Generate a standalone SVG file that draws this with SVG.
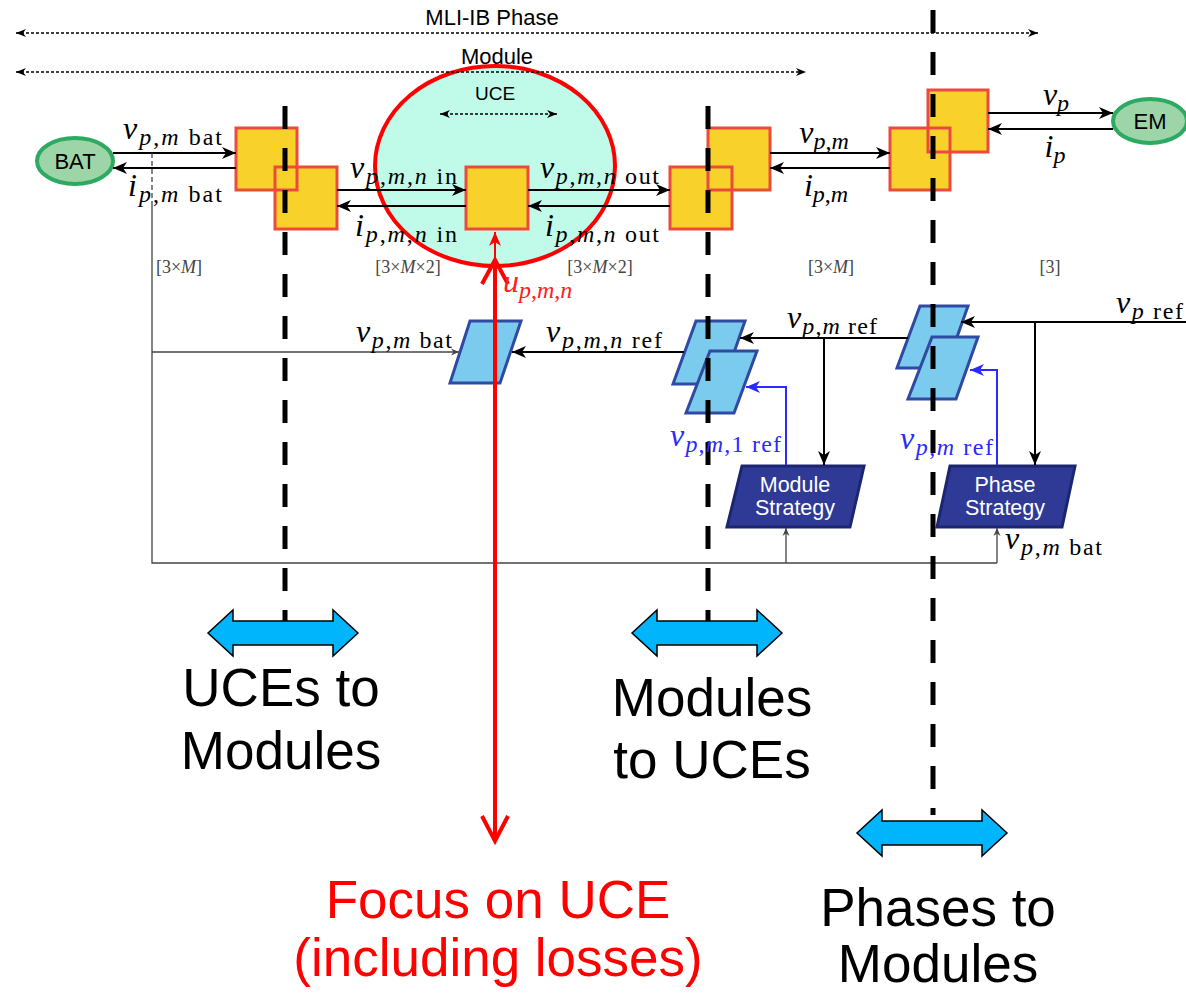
<svg xmlns="http://www.w3.org/2000/svg" width="1186" height="994" viewBox="0 0 1186 994">
<style>
.m{font-family:"Liberation Serif","DejaVu Serif",serif;font-size:32px;fill:#000}
.s{font-size:24px}
.i{font-style:italic}
.dim{font-family:"Liberation Serif","DejaVu Serif",serif;font-size:18px;fill:#444}
.sans{font-family:"Liberation Sans",Arial,sans-serif}
.big{font-family:"Liberation Sans",Arial,sans-serif;font-size:53px;fill:#000;text-anchor:middle}
.sq{fill:#f8d22a;stroke:none}
.sqo{fill:none;stroke:#ec4a3c;stroke-width:3}
.ctl{fill:#7bcbef;stroke:#2f4aa0;stroke-width:3}
.str{fill:#2e3a96;stroke:#1c2670;stroke-width:3}
.stxt{font-family:"Liberation Sans",Arial,sans-serif;font-size:21.5px;fill:#fff;text-anchor:middle}
.ln{stroke:#000;stroke-width:2;fill:none}
.th{stroke:#444;stroke-width:1.3;fill:none}
.dash{stroke:#000;stroke-width:5;stroke-dasharray:23 19;fill:none}
.dot{stroke:#000;stroke-width:1.5;stroke-dasharray:3 2;fill:none}
.bl{stroke:#2a2aff;stroke-width:2;fill:none}
.dbl{fill:#00b5fb;stroke:#000;stroke-width:1.5}
</style>
<defs>
<marker id="ah" markerUnits="userSpaceOnUse" markerWidth="16" markerHeight="12" refX="14" refY="6" orient="auto-start-reverse"><path d="M0,0 L14,6 L0,12 L4,6 z" fill="#000"/></marker>
<marker id="ahs" markerUnits="userSpaceOnUse" markerWidth="12" markerHeight="10" refX="10" refY="5" orient="auto-start-reverse"><path d="M0,1 L10,5 L0,9 L3,5 z" fill="#000"/></marker>
<marker id="aht" markerUnits="userSpaceOnUse" markerWidth="10" markerHeight="8" refX="8" refY="4" orient="auto"><path d="M0,0.5 L8,4 L0,7.5 L2.5,4 z" fill="#444"/></marker>
<marker id="ahb" markerUnits="userSpaceOnUse" markerWidth="16" markerHeight="12" refX="14" refY="6" orient="auto"><path d="M0,0 L14,6 L0,12 L4,6 z" fill="#2a2aff"/></marker>
<marker id="ahr" markerUnits="userSpaceOnUse" markerWidth="16" markerHeight="12" refX="14" refY="6" orient="auto"><path d="M0,0 L14,6 L0,12 L4,6 z" fill="#ff0000"/></marker>
</defs>

<!-- UCE ellipse -->
<g id="uce">
<ellipse cx="495" cy="166" rx="120" ry="100" fill="#c0fbea" stroke="#ff0000" stroke-width="4"/>
<text class="sans" x="495" y="100" font-size="19" text-anchor="middle">UCE</text>
<line class="dot" x1="440" y1="114" x2="557" y2="114" marker-start="url(#ahs)" marker-end="url(#ahs)"/>
</g>

<!-- top span arrows -->
<g id="span-phase">
<line class="dot" x1="16" y1="33" x2="1038" y2="33" marker-start="url(#ahs)" marker-end="url(#ahs)"/>
<text class="sans" x="492" y="25" font-size="22" text-anchor="middle">MLI-IB Phase</text>
</g>
<g id="span-module">
<line class="dot" x1="16" y1="72" x2="806" y2="72" marker-start="url(#ahs)" marker-end="url(#ahs)"/>
<text class="sans" x="497" y="64" font-size="22" text-anchor="middle">Module</text>
</g>

<g id="bat">
<ellipse cx="75" cy="161" rx="38" ry="23" fill="#9dd4a8" stroke="#2daa62" stroke-width="4"/>
<text class="sans" x="75" y="169" font-size="22" text-anchor="middle">BAT</text>
</g>
<g id="em">
<ellipse cx="1150" cy="121" rx="37" ry="22" fill="#9dd4a8" stroke="#2daa62" stroke-width="4"/>
<text class="sans" x="1150" y="129" font-size="22" text-anchor="middle">EM</text>
</g>

<!-- converter squares -->
<g id="conv-uce-left">
<rect class="sq" x="236" y="128" width="61" height="62"/>
<rect class="sq" x="275" y="167" width="62" height="62"/>
<rect class="sqo" x="236" y="128" width="61" height="62"/>
<rect class="sqo" x="275" y="167" width="62" height="62"/>
</g>
<g id="conv-uce">
<rect class="sq" x="466" y="167" width="62" height="62"/>
<rect class="sqo" x="466" y="167" width="62" height="62"/>
</g>
<g id="conv-module">
<rect class="sq" x="708" y="128" width="62" height="62"/>
<rect class="sq" x="670" y="167" width="62" height="62"/>
<rect class="sqo" x="708" y="128" width="62" height="62"/>
<rect class="sqo" x="670" y="167" width="62" height="62"/>
</g>
<g id="conv-phase">
<rect class="sq" x="928" y="90" width="60" height="62"/>
<rect class="sq" x="890" y="128" width="60" height="62"/>
<rect class="sqo" x="928" y="90" width="60" height="62"/>
<rect class="sqo" x="890" y="128" width="60" height="62"/>
</g>

<!-- controllers -->
<g id="ctl-uce">
<polygon class="ctl" points="470,321 521,321 500,383 450,383"/>
</g>
<g id="ctl-module">
<polygon class="ctl" points="696,321 745,321 723,384 673,384"/>
<polygon class="ctl" points="710,351 757,351 734,413 686,413"/>
</g>
<g id="ctl-phase">
<polygon class="ctl" points="920,306 968,306 946,368 897,368"/>
<polygon class="ctl" points="932,337 978,337 956,399 908,399"/>
</g>
<g id="module-strategy">
<polygon class="str" points="742,466 864,466 850,527 727,527"/>
<text class="stxt" x="795" y="492">Module</text>
<text class="stxt" x="795" y="515">Strategy</text>
</g>
<g id="phase-strategy">
<polygon class="str" points="950,466 1075,466 1062,527 937,527"/>
<text class="stxt" x="1005" y="492">Phase</text>
<text class="stxt" x="1005" y="515">Strategy</text>
</g>

<!-- connectors -->
<g id="connectors">
<line class="ln" x1="113" y1="153" x2="236" y2="153" marker-end="url(#ah)"/>
<line class="ln" x1="236" y1="168" x2="113" y2="168" marker-end="url(#ah)"/>
<line class="ln" x1="337" y1="190" x2="466" y2="190" marker-end="url(#ah)"/>
<line class="ln" x1="466" y1="206" x2="337" y2="206" marker-end="url(#ah)"/>
<line class="ln" x1="528" y1="190" x2="670" y2="190" marker-end="url(#ah)"/>
<line class="ln" x1="670" y1="206" x2="528" y2="206" marker-end="url(#ah)"/>
<line class="ln" x1="770" y1="153" x2="890" y2="153" marker-end="url(#ah)"/>
<line class="ln" x1="890" y1="168" x2="770" y2="168" marker-end="url(#ah)"/>
<line class="ln" x1="988" y1="113" x2="1113" y2="113" marker-end="url(#ah)"/>
<line class="ln" x1="1113" y1="129" x2="988" y2="129" marker-end="url(#ah)"/>
<!-- measurement bus -->
<line class="th" x1="152" y1="153" x2="152" y2="206" stroke-dasharray="5 3"/>
<polyline class="th" points="152,206 152,563 997,563"/>
<line class="th" x1="152" y1="352" x2="459" y2="352" marker-end="url(#aht)"/>
<line class="th" x1="786" y1="563" x2="786" y2="528" marker-end="url(#aht)"/>
<line class="th" x1="997" y1="563" x2="997" y2="528" marker-end="url(#aht)"/>
<!-- references -->
<line class="ln" x1="684" y1="352" x2="512" y2="352" marker-end="url(#ah)" stroke-width="1.8"/>
<line class="ln" x1="1186" y1="322" x2="961" y2="322" marker-end="url(#ah)" stroke-width="1.8"/>
<line class="ln" x1="1035" y1="322" x2="1035" y2="465" marker-end="url(#ah)" stroke-width="1.8"/>
<line class="ln" x1="908" y1="338" x2="740" y2="338" marker-end="url(#ah)" stroke-width="1.8"/>
<line class="ln" x1="824" y1="338" x2="824" y2="465" marker-end="url(#ah)" stroke-width="1.8"/>
<polyline class="bl" points="786,465 786,387 746,387" marker-end="url(#ahb)"/>
<polyline class="bl" points="997,465 997,370 970,370" marker-end="url(#ahb)"/>
<!-- red focus arrow -->
<line x1="495" y1="262" x2="495" y2="232" stroke="#ff0000" stroke-width="2" marker-end="url(#ahr)"/>
<line x1="495" y1="260" x2="495" y2="841" stroke="#ff0000" stroke-width="4"/>
<polyline points="482,284 495,260 508,284" fill="none" stroke="#ff0000" stroke-width="4"/>
<polyline points="482,816 495,841 508,816" fill="none" stroke="#ff0000" stroke-width="4"/>
</g>

<!-- boundary dashed lines -->
<g id="boundaries">
<line class="dash" x1="285" y1="106" x2="285" y2="622"/>
<line class="dash" x1="708" y1="106" x2="708" y2="622"/>
<line class="dash" x1="933" y1="10" x2="933" y2="815"/>
</g>

<!-- signal labels -->
<g id="labels">
<text class="m" x="123" y="139" textLength="99" lengthAdjust="spacing"><tspan class="i">v</tspan><tspan class="s" dy="6"><tspan class="i">p</tspan>,<tspan class="i">m</tspan> bat</tspan></text>
<text class="m" x="128" y="196" textLength="94" lengthAdjust="spacing"><tspan class="i">i</tspan><tspan class="s" dy="6"><tspan class="i">p</tspan>,<tspan class="i">m</tspan> bat</tspan></text>
<text class="m" x="350" y="178" textLength="107" lengthAdjust="spacing"><tspan class="i">v</tspan><tspan class="s" dy="6"><tspan class="i">p</tspan>,<tspan class="i">m</tspan>,<tspan class="i">n</tspan> in</tspan></text>
<text class="m" x="355" y="236" textLength="102" lengthAdjust="spacing"><tspan class="i">i</tspan><tspan class="s" dy="6"><tspan class="i">p</tspan>,<tspan class="i">m</tspan>,<tspan class="i">n</tspan> in</tspan></text>
<text class="m" x="540" y="178" textLength="119" lengthAdjust="spacing"><tspan class="i">v</tspan><tspan class="s" dy="6"><tspan class="i">p</tspan>,<tspan class="i">m</tspan>,<tspan class="i">n</tspan> out</tspan></text>
<text class="m" x="545" y="236" textLength="114" lengthAdjust="spacing"><tspan class="i">i</tspan><tspan class="s" dy="6"><tspan class="i">p</tspan>,<tspan class="i">m</tspan>,<tspan class="i">n</tspan> out</tspan></text>
<text class="m" x="824" y="143" text-anchor="middle"><tspan class="i">v</tspan><tspan class="s" dy="6"><tspan class="i">p</tspan>,<tspan class="i">m</tspan></tspan></text>
<text class="m" x="826" y="196" text-anchor="middle"><tspan class="i">i</tspan><tspan class="s" dy="6"><tspan class="i">p</tspan>,<tspan class="i">m</tspan></tspan></text>
<text class="m" x="1056" y="105" text-anchor="middle"><tspan class="i">v</tspan><tspan class="s i" dy="6">p</tspan></text>
<text class="m" x="1055" y="157" text-anchor="middle"><tspan class="i">i</tspan><tspan class="s i" dy="6">p</tspan></text>
<text class="m" x="1116" y="313" textLength="67" lengthAdjust="spacing"><tspan class="i">v</tspan><tspan class="s" dy="6"><tspan class="i">p</tspan> ref</tspan></text>
<text class="m" x="787" y="328" textLength="90" lengthAdjust="spacing"><tspan class="i">v</tspan><tspan class="s" dy="6"><tspan class="i">p</tspan>,<tspan class="i">m</tspan> ref</tspan></text>
<text class="m" x="546" y="342" textLength="116" lengthAdjust="spacing"><tspan class="i">v</tspan><tspan class="s" dy="6"><tspan class="i">p</tspan>,<tspan class="i">m</tspan>,<tspan class="i">n</tspan> ref</tspan></text>
<text class="m" x="356" y="342" textLength="96" lengthAdjust="spacing"><tspan class="i">v</tspan><tspan class="s" dy="6"><tspan class="i">p</tspan>,<tspan class="i">m</tspan> bat</tspan></text>
<text class="m" x="670" y="446" textLength="111" lengthAdjust="spacing" style="fill:#2a2aff"><tspan class="i">v</tspan><tspan class="s" dy="6"><tspan class="i">p</tspan>,<tspan class="i">m</tspan>,1 ref</tspan></text>
<text class="m" x="900" y="449" textLength="93" lengthAdjust="spacing" style="fill:#2a2aff"><tspan class="i">v</tspan><tspan class="s" dy="6"><tspan class="i">p</tspan>,<tspan class="i">m</tspan> ref</tspan></text>
<text class="m" x="1005" y="549" textLength="97" lengthAdjust="spacing"><tspan class="i">v</tspan><tspan class="s" dy="6"><tspan class="i">p</tspan>,<tspan class="i">m</tspan> bat</tspan></text>
<text class="m" x="503" y="292" style="fill:#ff2020"><tspan class="i">u</tspan><tspan class="s" dy="6"><tspan class="i">p</tspan>,<tspan class="i">m</tspan>,<tspan class="i">n</tspan></tspan></text>
<text class="dim" x="179" y="273" text-anchor="middle">[3×<tspan class="i">M</tspan>]</text>
<text class="dim" x="408" y="273" text-anchor="middle">[3×<tspan class="i">M</tspan>×2]</text>
<text class="dim" x="600" y="273" text-anchor="middle">[3×<tspan class="i">M</tspan>×2]</text>
<text class="dim" x="831" y="273" text-anchor="middle">[3×<tspan class="i">M</tspan>]</text>
<text class="dim" x="1050" y="273" text-anchor="middle">[3]</text>
</g>

<!-- double arrows and captions -->
<g id="uces-to-modules">
<polygon class="dbl" points="208,633 233,610 233,621 333,621 333,610 358,633 333,656 333,645 233,645 233,656"/>
<text class="big" x="281" y="706">UCEs to</text>
<text class="big" x="281" y="769">Modules</text>
</g>
<g id="modules-to-uces">
<polygon class="dbl" points="632,633 657,610 657,621 757,621 757,610 782,633 757,656 757,645 657,645 657,656"/>
<text class="big" x="712" y="716">Modules</text>
<text class="big" x="712" y="778">to UCEs</text>
</g>
<g id="phases-to-modules">
<polygon class="dbl" points="857,833 882,810 882,821 982,821 982,810 1007,833 982,856 982,845 882,845 882,856"/>
<text class="big" x="938" y="926">Phases to</text>
<text class="big" x="938" y="982">Modules</text>
</g>
<g id="focus-on-uce">
<text class="big" x="498" y="918" style="fill:#ff0000">Focus on UCE</text>
<text class="big" x="498" y="976" style="fill:#ff0000">(including losses)</text>
</g>
</svg>
